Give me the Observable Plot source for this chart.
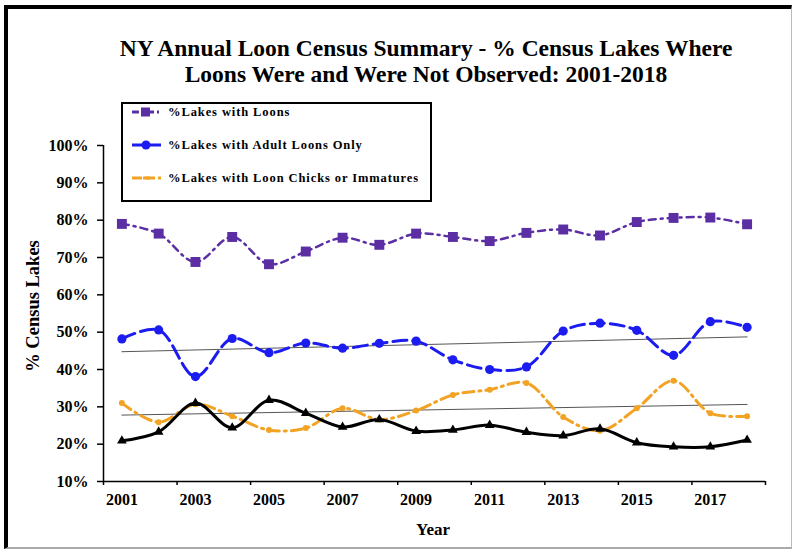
<!DOCTYPE html>
<html><head><meta charset="utf-8">
<script src="https://cdn.jsdelivr.net/npm/d3@7"></script>
<script src="https://cdn.jsdelivr.net/npm/@observablehq/plot@0.6"></script>
<style>
body{margin:0;background:#fff;}
#wrap{position:relative;width:796px;height:553px;overflow:hidden;background:#fff;font-family:"Liberation Serif","Times New Roman",serif;font-weight:bold;color:#000;}
#frame{position:absolute;left:4px;top:5px;width:788px;height:544px;border-left:4px solid #000;border-top:4px solid #000;border-right:1px solid #bbb;border-bottom:2px solid #aaa;box-sizing:border-box;pointer-events:none;}
#chart{position:absolute;left:0;top:0;}
#title{position:absolute;left:26px;width:800px;top:35px;text-align:center;font-size:23.5px;line-height:26px;}
#ytitle{position:absolute;left:33px;top:306px;transform:translate(-50%,-50%) rotate(-90deg);white-space:nowrap;font-size:18.5px;}
#xtitle{position:absolute;left:433px;top:530px;transform:translate(-50%,-50%);font-size:17px;}
#legend{position:absolute;left:121px;top:102px;}
</style></head>
<body>
<div id="wrap">
  <div id="chart"></div>
  <div id="title">NY Annual Loon Census Summary - % Census Lakes Where<br>Loons Were and Were Not Observed: 2001-2018</div>
  <div id="ytitle">% Census Lakes</div>
  <div id="xtitle">Year</div>
  <div id="legend"></div>
  <div id="frame"></div>
</div>
<script>
const years = [2001,2002,2003,2004,2005,2006,2007,2008,2009,2010,2011,2012,2013,2014,2015,2016,2017,2018];
const lakesWithLoons = [79.0,76.4,68.8,75.5,68.2,71.6,75.3,73.4,76.4,75.5,74.4,76.6,77.5,75.9,79.5,80.6,80.7,78.9];
const adultLoonsOnly = [48.2,50.6,38.1,48.3,44.5,47.1,45.7,47.0,47.6,42.6,40.0,40.7,50.3,52.4,50.5,43.8,52.8,51.3];
const chicksOrImmatures = [31.0,25.9,30.7,27.5,23.8,24.3,29.6,26.6,29.0,33.2,34.6,36.4,27.3,23.6,29.6,37.0,28.3,27.5];
const lakesWithoutLoons = [20.9,23.3,31.0,24.4,31.8,28.3,24.6,26.6,23.5,23.8,25.1,23.2,22.3,24.1,20.4,19.3,19.3,21.1];
const yTicks = [10,20,30,40,50,60,70,80,90,100];
const xLabelYears = [2001,2003,2005,2007,2009,2011,2013,2015,2017];
const xTickBounds = [2000.5,2002.5,2004.5,2006.5,2008.5,2010.5,2012.5,2014.5,2016.5,2018.5];
const seriesNames = ["%Lakes with Loons","%Lakes with Adult Loons Only","%Lakes with Loon Chicks or Immatures"];

const purple = "#5b2ea3", blue = "#1c1cf0", orange = "#f2a323";

const rows = years.map((year,i)=>({year, loons:lakesWithLoons[i], adult:adultLoonsOnly[i], chicks:chicksOrImmatures[i], none:lakesWithoutLoons[i]}));

const chart = Plot.plot({
  width:796, height:553,
  marginLeft:103, marginRight:31, marginTop:145, marginBottom:72,
  x:{type:"linear", domain:[2000.5,2018.5]},
  y:{domain:[10,100]},
  style:{fontFamily:"'Liberation Serif','Times New Roman',serif", fontWeight:"bold", fontSize:"16px", color:"#000", background:"transparent", overflow:"visible"},
  marks:[
    Plot.linearRegressionY(rows,{x:"year",y:"adult",stroke:"#555",strokeWidth:1,ci:0}),
    Plot.linearRegressionY(rows,{x:"year",y:"chicks",stroke:"#555",strokeWidth:1,ci:0}),
    Plot.line(rows,{x:"year",y:"loons",stroke:purple,strokeWidth:2.5,strokeDasharray:"7,5,2,5",curve:"catmull-rom"}),
    Plot.line(rows,{x:"year",y:"adult",stroke:blue,strokeWidth:3,strokeDasharray:"14,6",curve:"catmull-rom"}),
    Plot.line(rows,{x:"year",y:"chicks",stroke:orange,strokeWidth:3,strokeDasharray:"11,5,2,5",curve:"catmull-rom"}),
    Plot.line(rows,{x:"year",y:"none",stroke:"#000",strokeWidth:3,curve:"catmull-rom"}),
    Plot.dot(rows,{x:"year",y:"chicks",r:3,fill:orange,stroke:"none"}),
    Plot.dot(rows,{x:"year",y:"loons",symbol:"square",r:5.6,fill:purple,stroke:"none"}),
    Plot.dot(rows,{x:"year",y:"adult",r:4.6,fill:blue,stroke:"none"}),
    Plot.dot(rows,{x:"year",y:"none",symbol:"triangle",r:3.6,fill:"#000",stroke:"none"}),
    Plot.ruleX([2000.5],{y1:10,y2:100,stroke:"#000",strokeWidth:1.5}),
    Plot.ruleY([10],{stroke:"#000",strokeWidth:1.5}),
    Plot.axisY(yTicks,{tickSize:6,tickPadding:9,tickFormat:d=>d+"%",label:null,stroke:"#000",strokeWidth:1.5,fontSize:16}),
    Plot.axisX(xLabelYears,{tickSize:0,tickPadding:12,tickFormat:d=>String(d),label:null,fontSize:16}),
    Plot.axisX(xTickBounds,{tickSize:4,tickFormat:()=>"",label:null,stroke:"#000",strokeWidth:1.5})
  ]
});
document.getElementById("chart").appendChild(chart);

// legend
const lg = d3.select("#legend").append("svg").attr("width",312).attr("height",101)
  .style("font-family","'Liberation Serif','Times New Roman',serif").style("font-weight","bold");
lg.append("rect").attr("x",1).attr("y",1).attr("width",309).attr("height",98).attr("fill","#fff").attr("stroke","#000").attr("stroke-width",2);
const ly = [10,43,76];
const lcol = [purple, blue, orange];
const ldash = ["7,3,2,3","14,0","10,3"];
seriesNames.forEach((name,i)=>{
  const g = lg.append("g").attr("transform",`translate(0,${ly[i]})`);
  g.append("line").attr("x1",11).attr("x2",40).attr("stroke",lcol[i]).attr("stroke-width",3).attr("stroke-dasharray",ldash[i]);
  if(i===0) g.append("rect").attr("x",20).attr("y",-4.5).attr("width",9).attr("height",9).attr("fill",purple);
  if(i===1) g.append("circle").attr("cx",25).attr("r",4.5).attr("fill",blue);
  if(i===2) g.append("rect").attr("x",22).attr("y",-1.5).attr("width",7).attr("height",3).attr("fill",orange);
  g.append("text").attr("x",47).attr("dy","0.35em").attr("font-size","12.5px").attr("letter-spacing","0.9px").text(name);
});
</script>
</body></html>
